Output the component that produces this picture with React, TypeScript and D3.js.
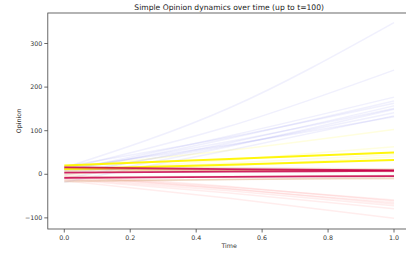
import React from "react";
import * as d3 from "d3";

const W = 406;
const H = 255;

const times = [0, 0.5, 1];

// Opinion trajectories (values at t = 0, 0.5, 1)
const blueSeries = [
  [15, 152, 348],
  [12, 110, 239],
  [8, 88, 177],
  [5, 82, 168],
  [18, 85, 163],
  [-2, 72, 157],
  [10, 75, 151],
  [-10, 64, 149],
  [3, 66, 141],
  [-18, 55, 134],
  [14, 68, 132],
];
const yellowFaintSeries = [
  [16, 55, 103],
  [6, 33, 63],
  [10, 26, 45],
  [0, 19, 40],
];
const yellowSeries = [
  [20, 35, 50],
  [12, 22, 33],
];
const tanSeries = [
  [18, 15, 12],
  [-14, -12, -10],
  [-6, -5, -3],
  [8, 7, 6],
  [-17, -12, -8],
];
const orangeSeries = [
  [12, 10, 9],
];
const redSeries = [
  [16, 12, 9],
  [4, 6, 8],
  [-8, -6, -4],
];
const pinkSeries = [
  [-5, -30, -59],
  [-8, -34, -65],
  [-3, -33, -68],
  [-12, -43, -79],
  [-15, -55, -101],
  [0, -28, -61],
  [-10, -38, -72],
];

const xTicks = [0, 0.2, 0.4, 0.6, 0.8, 1.0];
const yTicks = [-100, 0, 100, 200, 300];

const title = "Simple Opinion dynamics over time (up to t=100)";
const xLabel = "Time";
const yLabel = "Opinion";

export default function App() {
  const left = 47.8;
  const right = 410.5;
  const top = 13;
  const bottom = 229;
  const x = d3.scaleLinear().domain([-0.05, 1.05]).range([left, right]);
  const y = d3.scaleLinear().domain([-125.5, 370]).range([bottom, top]);

  const line = d3
    .line<number>()
    .x((_, i) => x(times[i]))
    .y((d) => y(d))
    .curve(d3.curveMonotoneX);

  const groups = [
    { data: blueSeries, color: "rgb(110,110,240)", op: 0.1, w: 1.5 },
    { data: pinkSeries, color: "rgb(255,110,110)", op: 0.12, w: 1.5 },
    { data: tanSeries, color: "rgb(205,140,80)", op: 0.22, w: 1.5 },
    { data: yellowFaintSeries, color: "rgb(255,250,80)", op: 0.18, w: 1.5 },
    { data: orangeSeries, color: "rgb(215,120,50)", op: 0.6, w: 1.5 },
    { data: yellowSeries, color: "rgb(255,245,0)", op: 0.95, w: 2 },
    { data: redSeries, color: "rgb(200,0,75)", op: 0.85, w: 1.8 },
  ];

  const font = "DejaVu Sans, sans-serif";
  const axisColor = "#444";

  return (
    <svg
      width={W}
      height={H}
      style={{ position: "fixed", left: 0, top: 0, background: "#fff" }}
    >
      <rect x={0} y={0} width={W} height={H} fill="#fff" />
      <defs>
        <clipPath id="plot">
          <rect x={left} y={top} width={right - left} height={bottom - top} />
        </clipPath>
      </defs>
      <g clipPath="url(#plot)">
        {groups.map((g, gi) =>
          g.data.map((s, i) => (
            <path
              key={`${gi}-${i}`}
              d={line(s) || ""}
              fill="none"
              stroke={g.color}
              strokeOpacity={g.op}
              strokeWidth={g.w}
            />
          ))
        )}
      </g>
      <rect
        x={left}
        y={top}
        width={right - left}
        height={bottom - top}
        fill="none"
        stroke={axisColor}
        strokeWidth={0.8}
      />
      {xTicks.map((t) => (
        <g key={`x${t}`}>
          <line x1={x(t)} x2={x(t)} y1={bottom} y2={bottom + 3.5} stroke={axisColor} strokeWidth={0.8} />
          <text x={x(t)} y={bottom + 11} fontSize={6.3} fontFamily={font} textAnchor="middle" fill="#333">
            {t.toFixed(1)}
          </text>
        </g>
      ))}
      {yTicks.map((t) => (
        <g key={`y${t}`}>
          <line x1={left - 3.5} x2={left} y1={y(t)} y2={y(t)} stroke={axisColor} strokeWidth={0.8} />
          <text x={left - 5.5} y={y(t) + 2.2} fontSize={6.3} fontFamily={font} textAnchor="end" fill="#333">
            {t < 0 ? "\u2212" + Math.abs(t) : t}
          </text>
        </g>
      ))}
      <text x={(left + right) / 2} y={9.5} fontSize={7.6} fontFamily={font} textAnchor="middle" fill="#222">
        {title}
      </text>
      <text x={(left + right) / 2} y={248} fontSize={6.3} fontFamily={font} textAnchor="middle" fill="#333">
        {xLabel}
      </text>
      <text
        transform={`translate(20.5,${(top + bottom) / 2}) rotate(-90)`}
        fontSize={6.3}
        fontFamily={font}
        textAnchor="middle"
        fill="#333"
      >
        {yLabel}
      </text>
    </svg>
  );
}
